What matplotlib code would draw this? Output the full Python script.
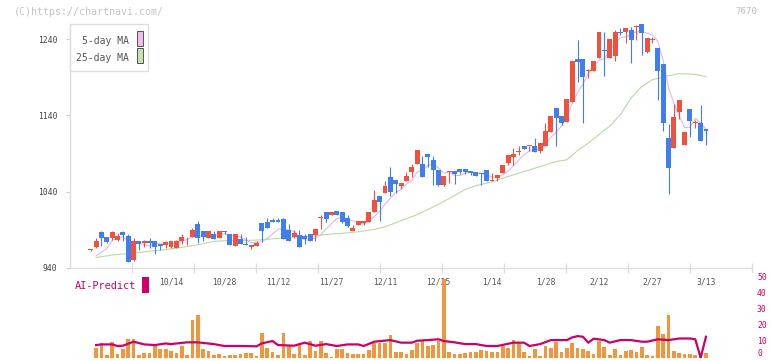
import numpy as np
import pandas as pd
import matplotlib
matplotlib.use('Agg')
import matplotlib.pyplot as plt
import matplotlib.patches as patches

# daily candles, index 0..115 (last one is 3/13)
opens = [963, 967, 987, 980, 979, 977, 987, 982, 950, 976,
         973, 976, 976, 972, 970, 968, 966, 975, 980, 981,
         998, 989, 979, 985, 979, 989, 985, 969.5, 978, 971,
         967, 969.5, 999, 1000, 1003, 1003, 1004, 990, 980, 983.5,
         982.5, 985, 983.5, 1005, 1013, 1009, 1015, 1013, 1006, 989,
         996.5, 999.5, 1000, 1013, 1034.5, 1038, 1059, 1055.5, 1047, 1054.5,
         1066.5, 1076.5, 1076.5, 1089.5, 1082, 1068.5, 1049, 1065.5, 1067.5, 1070,
         1070, 1067.5, 1065.5, 1064.5, 1068, 1054.5, 1058, 1064.5, 1077.5, 1085.5,
         1092.5, 1100, 1099.5, 1100, 1093, 1099.5, 1119, 1149.5, 1139.5, 1131,
         1157.5, 1213.5, 1213.5, 1199, 1199, 1215, 1225, 1216, 1218.5, 1249.5,
         1249, 1252, 1256.5, 1260, 1223.5, 1239.5, 1229, 1207.5, 1111, 1098,
         1145, 1101.5, 1148.5, 1130, 1130, 1122]
highs = [964.5, 979, 988, 981, 988, 986, 989, 985, 979, 976,
         977, 979, 976, 972, 976, 975, 977, 984, 981, 992,
         1001, 989, 989, 989, 989, 989, 985, 985, 985, 981,
         970.5, 975.5, 999, 1006, 1005, 1005, 1005, 997.5, 990, 990,
         984.5, 985, 991, 1009.5, 1013, 1013, 1015, 1013, 1009.5, 996.5,
         1001, 1001, 1014, 1042.5, 1034.5, 1053.5, 1073, 1055.5, 1052, 1066.5,
         1076.5, 1095, 1087, 1089.5, 1087, 1068.5, 1060, 1067.5, 1067.5, 1070,
         1070, 1067.5, 1065.5, 1064.5, 1068, 1065, 1062, 1075, 1088.5, 1097,
         1100, 1100, 1100.5, 1110, 1103.5, 1130, 1139.5, 1149.5, 1139.5, 1162,
         1212, 1239, 1213.5, 1200.5, 1211.5, 1249, 1250, 1240, 1252, 1254.5,
         1254.5, 1256.5, 1258.5, 1260, 1241, 1243.5, 1229, 1207.5, 1129, 1155,
         1160.5, 1119, 1148.5, 1134, 1154, 1122]
lows = [962.5, 966, 969, 973, 977, 975, 975, 948, 949, 964,
        967, 966, 959, 964, 966, 966, 966, 971, 970, 980,
        973, 975, 979, 978, 979, 985, 970, 969.5, 971, 970,
        964.5, 969, 974.5, 993, 1000, 1000, 978, 975.5, 979, 967,
        971, 976, 976, 991, 1000, 1009, 1009, 999, 994, 989,
        996.5, 996, 1000, 1013, 1001, 1038, 1035, 1038, 1043, 1054.5,
        1059, 1076.5, 1059, 1072, 1049, 1047, 1047, 1051, 1050, 1063,
        1063.5, 1062, 1060, 1049, 1054.5, 1054.5, 1053.5, 1064.5, 1075, 1075,
        1088.5, 1096.5, 1094, 1092.5, 1090.5, 1099.5, 1119, 1099.5, 1127.5, 1131,
        1157.5, 1184.5, 1130, 1189.5, 1199, 1215, 1192, 1216, 1212, 1245,
        1234.5, 1208.5, 1239, 1219.5, 1222.5, 1234.5, 1160.5, 1120, 1037, 1098,
        1135.5, 1101.5, 1112, 1124, 1106.5, 1101.5]
closes = [964, 976, 979, 974, 987, 982, 983, 948.5, 976, 972,
          975, 972.5, 968, 969, 974, 975, 976, 981, 981, 990,
          979, 981, 989, 978, 989, 987.5, 970, 985, 971, 970,
          970.5, 972.5, 988, 993, 1000, 1000.5, 978, 975.5, 986.5, 967,
          978, 976, 991, 1006.5, 1004.5, 1013, 1009, 1000, 994.5, 993,
          1001, 1001, 1014, 1029.5, 1026, 1047.5, 1040, 1050, 1052, 1060,
          1073, 1095, 1059, 1085.5, 1068, 1049, 1060, 1067.5, 1063, 1066.5,
          1066.5, 1065, 1060, 1063, 1054.5, 1055.5, 1062, 1075, 1088.5, 1089.5,
          1093, 1096.5, 1100.5, 1092.5, 1103.5, 1120, 1139.5, 1136.5, 1130.5, 1162,
          1212, 1210.5, 1190, 1200, 1211.5, 1249, 1224, 1240, 1249, 1248.5,
          1254.5, 1239, 1258, 1248, 1241, 1240.5, 1199, 1130.5, 1071.5, 1138.5,
          1160.5, 1119, 1133, 1131, 1106.5, 1120]
# closes of the 4 days before the window (for the 5-day MA)
prev_close = [950, 955, 950, 935]

ma25_idx = [1, 4, 8, 11, 14, 17, 20, 23, 26, 29, 32, 35, 38, 41, 44, 47, 50, 53, 55, 58,
            61, 64, 67, 70, 72, 75, 78, 81, 84, 87, 89, 91, 93, 95, 97, 99, 101, 103, 105, 108,
            110, 113, 115]
ma25_val = [953.8, 957, 959.5, 962, 964, 967, 970.5, 975, 976, 976, 977, 979, 980.5, 981.5,
            984, 985.5, 987.5, 990.5, 994, 1002, 1010, 1020, 1031, 1043, 1048, 1053, 1060,
            1066.5, 1073, 1079.5, 1082, 1094, 1104, 1115, 1126, 1141, 1163, 1178, 1187, 1192,
            1195, 1194, 1191]

# volume (x10k), candles 1..115
volume = [6.2, 9, 1.7, 9.6, 2.3, 5.6, 11.7, 11.7, 1.7, 2.9,
          2.9, 8.3, 5.4, 5.4, 4.2, 2.9, 7.3, 1.7, 23.5, 26.7,
          5.6, 4.2, 1.7, 2.3, 1.0, 1.5, 1.5, 2.3, 2.9, 2.9,
          1.0, 15.2, 6.2, 3.5, 1.7, 15.2, 7.1, 2.3, 9.0, 1.7,
          10.4, 4.2, 10.4, 2.9, 0.6, 5.6, 5.6, 2.9, 2.3, 2.3,
          2.3, 4.8, 9.0, 9.0, 9.0, 14.2, 3.5, 3.5, 2.3, 4.8,
          9.0, 10.4, 7.3, 7.9, 10.4, 49.2, 3.5, 2.3, 2.3, 2.9,
          3.5, 3.5, 4.8, 4.2, 3.5, 3.5, 7.3, 6.2, 11.2, 9.0,
          3.5, 1.0, 5.4, 1.0, 7.3, 6.2, 10.0, 3.5, 6.2, 9.0,
          6.2, 5.4, 4.4, 2.3, 10.4, 6.7, 1.7, 5.4, 1.7, 4.2,
          4.8, 3.5, 6.7, 1.7, 1.0, 19.8, 14.8, 26.7, 4.2, 2.9,
          2.3, 2.3, 1.7, 1.7, 2.9]

ai_idx = [1, 2, 4, 5, 6, 8, 10, 12, 14, 15, 18, 20, 23, 25, 28, 31, 32, 34, 35, 38,
          40, 42, 44, 46, 48, 50, 51, 53, 56, 58, 60, 61, 63, 65, 66, 68, 70, 72, 74, 76,
          79, 81, 82, 84, 86, 89, 90, 91, 92, 93, 94, 96, 97, 99, 101, 103, 104, 106, 108, 110,
          112, 113, 114, 115]
ai_val = [7.9, 8.3, 8.3, 7.3, 7.5, 10, 8.3, 7.9, 8.9, 8.5, 9.6, 9.6, 8.5, 7.3, 7.3, 7.1, 9, 10.4, 7.9, 7.5,
          9.4, 7.5, 8.5, 7.3, 8.3, 8.3, 7.3, 10, 11, 9.4, 9.4, 10.6, 11, 11.5, 10.4, 9.6, 8.5, 8.5, 7.3, 7.3,
          9.4, 9.4, 7.3, 8.5, 11, 11, 12.7, 13.5, 13.1, 9.4, 11.9, 11, 9.4, 11, 11, 10, 10, 11.5, 11, 12,
          12, 11.5, 0, 13.1]
vol_ticks = [0, 10, 20, 30, 40, 50]

date_pos = [15, 25, 35, 45, 55, 65, 75, 85, 95, 105, 115]
date_lbl = ['10/14', '10/28', '11/12', '11/27', '12/11', '12/25',
            '1/14', '1/28', '2/12', '2/27', '3/13']

W, H = 772, 361
UP, DOWN = '#f0503e', '#3f7ef0'
MAGENTA = '#cc0066'
MONO = 'DejaVu Sans Mono'


def fx(x):
    return x / W


def fy(y):
    return 1 - y / H


fig = plt.figure(figsize=(W / 100, H / 100), dpi=100)
fig.patch.set_facecolor('white')

# ---- price panel ----
ax = fig.add_axes([fx(70), fy(268), fx(752) - fx(70), fy(24) - fy(268)])
xmin, xmax = -3.88, 123.6
ax.set_xlim(xmin, xmax)
ax.set_ylim(940, 1260)

o = np.array(opens)
h = np.array(highs)
l = np.array(lows)
c = np.array(closes)
idx = np.arange(len(o))
col = np.where(c >= o, UP, DOWN)

ax.vlines(idx, l, h, colors=col, linewidth=0.8, zorder=3)
body = np.maximum(np.abs(c - o), 1.3)
ax.bar(idx, body, bottom=np.minimum(o, c), width=0.92, color=col,
       linewidth=0, zorder=4)

full = pd.Series(prev_close + closes)
ma5 = full.rolling(5).mean().to_numpy()[len(prev_close):]
ax.plot(idx[1:], ma5[1:], color='#e8b4e8', lw=0.8, zorder=2)
ax.plot(ma25_idx, ma25_val, color='#b4dca4', lw=0.8, zorder=2)

for s in ['top', 'right']:
    ax.spines[s].set_visible(False)
for s in ['left', 'bottom']:
    ax.spines[s].set_color('#dddddd')
    ax.spines[s].set_linewidth(1)

ax.set_yticks([940, 1040, 1140, 1240])
ax.tick_params(axis='y', length=3, width=0.8, color='#cccccc', pad=6,
               labelsize=5.8, labelcolor='#444444')
for t in ax.get_yticklabels():
    t.set_fontfamily(MONO)

px_per_unit = (752 - 70) / (xmax - xmin)
xt = [xmin + 62 * k / px_per_unit for k in range(1, 12)]
ax.set_xticks(xt)
ax.set_xticklabels([])
ax.tick_params(axis='x', direction='inout', length=7, width=1, color='#dddddd')

for p, lab in zip(date_pos, date_lbl):
    ax.text(p, -14 / 244, lab, transform=ax.get_xaxis_transform(),
            ha='center', va='center', fontsize=5.8, color='#555555',
            family=MONO)

# legend box
fig.add_artist(patches.Rectangle((fx(70), fy(71)), fx(78), 47 / H,
                                 transform=fig.transFigure, facecolor='white',
                                 edgecolor='#dddddd', lw=1, zorder=10))
fig.text(fx(129), fy(41), '5-day MA', ha='right', va='center', fontsize=7,
         color='#555555', family=MONO, zorder=11)
fig.text(fx(129), fy(58), '25-day MA', ha='right', va='center', fontsize=7,
         color='#555555', family=MONO, zorder=11)
fig.add_artist(patches.Rectangle((fx(136.5), fy(46)), fx(6), 15 / H,
                                 transform=fig.transFigure, facecolor='#eebcee',
                                 edgecolor='#555555', lw=0.7, zorder=11))
fig.add_artist(patches.Rectangle((fx(136.5), fy(63)), fx(6), 15 / H,
                                 transform=fig.transFigure, facecolor='#c2e2b2',
                                 edgecolor='#555555', lw=0.7, zorder=11))

fig.text(fx(14), fy(12), '(C)https://chartnavi.com/', ha='left', va='center',
         fontsize=7.2, color='#c4c4c4', family=MONO)
fig.text(fx(757), fy(12), '7670', ha='right', va='center', fontsize=6.6,
         color='#bdbdbd', family=MONO)

# ---- volume / AI-Predict panel ----
ax2 = fig.add_axes([fx(70), fy(357.7), fx(752) - fx(70), fy(277.7) - fy(357.7)])
ax2.set_xlim(xmin, xmax)
ax2.set_ylim(0, 50)
ax2.bar(np.arange(1, len(volume) + 1), volume, width=0.69, color='#f2963e',
        linewidth=0, zorder=2)
ax2.plot(ai_idx, ai_val, color=MAGENTA, lw=1.6, zorder=3)
for s in ax2.spines.values():
    s.set_visible(False)
ax2.patch.set_alpha(0)
ax2.set_xticks([])
ax2.set_yticks([])

# right-hand scale labels (0 nudged up so it stays inside the figure)
for v in vol_ticks:
    ax2.text(1.0, v, str(v), transform=ax2.get_yaxis_transform(),
             ha='left', va='center' if v else 'bottom', fontsize=5.8,
             color=MAGENTA, family=MONO)
for t in ax2.texts:
    t.set_x(1.0 + 5 / (752 - 70))

fig.text(fx(75), fy(286), 'AI-Predict', ha='left', va='center', fontsize=7.4,
         color=MAGENTA, family=MONO)
fig.add_artist(patches.Rectangle((fx(142), fy(293)), fx(7), 16 / H,
                                 transform=fig.transFigure, facecolor=MAGENTA,
                                 edgecolor='none'))

fig.savefig('out.png', dpi=100)
